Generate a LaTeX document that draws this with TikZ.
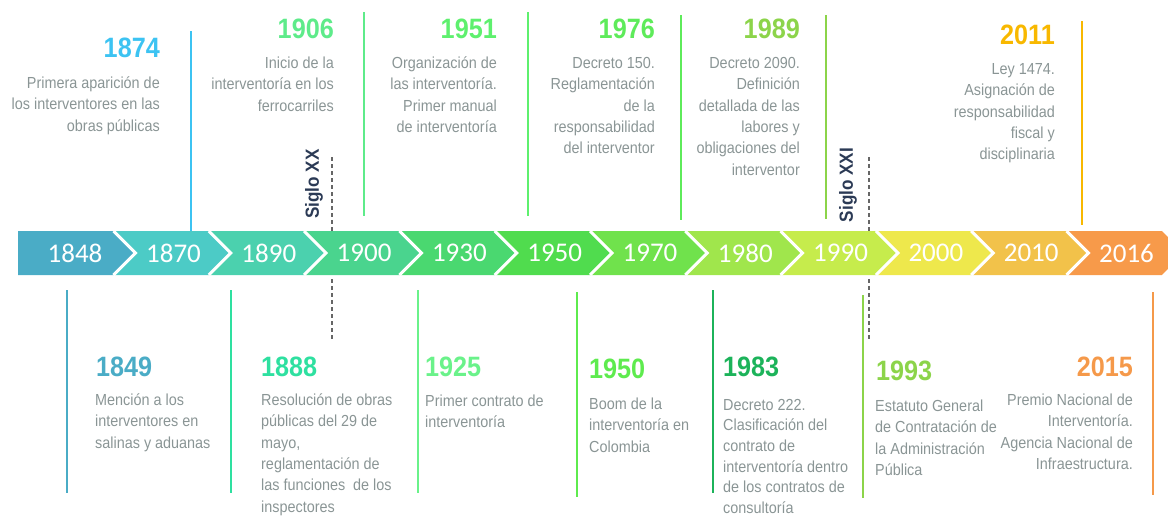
\documentclass[tikz,border=0pt]{standalone}
\usepackage{fontspec}
\newfontfamily\condf{Liberation Sans}[FakeStretch=0.9]
\newfontfamily\bandf{Carlito}
\newcommand\firstln{\rule{0pt}{16pt}}
\definecolor{descgray}{HTML}{8A9595}
\definecolor{navy}{HTML}{2B3A55}
\definecolor{dashgray}{HTML}{666666}
\definecolor{s0}{HTML}{4AACC6}
\definecolor{s1}{HTML}{4CCBC6}
\definecolor{s2}{HTML}{4BD1AE}
\definecolor{s3}{HTML}{4AD48E}
\definecolor{s4}{HTML}{4AD870}
\definecolor{s5}{HTML}{50DC4E}
\definecolor{s6}{HTML}{70E24C}
\definecolor{s7}{HTML}{A0E64C}
\definecolor{s8}{HTML}{C6EC4C}
\definecolor{s9}{HTML}{EEE84C}
\definecolor{s10}{HTML}{F2C24A}
\definecolor{s11}{HTML}{F79A4A}
\definecolor{k1874}{HTML}{3CC3F2}
\definecolor{k1906}{HTML}{5EEB8A}
\definecolor{k1951}{HTML}{5EF06E}
\definecolor{k1976}{HTML}{5EEB5A}
\definecolor{k1989}{HTML}{8CD44A}
\definecolor{k2011}{HTML}{F8B800}
\definecolor{k1849}{HTML}{4AACC6}
\definecolor{k1888}{HTML}{2EE0A0}
\definecolor{k1925}{HTML}{6AF28A}
\definecolor{k1950}{HTML}{5EEB4E}
\definecolor{k1983}{HTML}{1CB35A}
\definecolor{k1993}{HTML}{8CD44A}
\definecolor{k2015}{HTML}{F5994A}
\tikzset{
  yearR/.style={font=\condf\bfseries\fontsize{28}{28}\selectfont, inner sep=0, anchor=base east},
  yearL/.style={font=\condf\bfseries\fontsize{28}{28}\selectfont, inner sep=0, anchor=base west},
  descR/.style={font=\condf\fontsize{16}{21.4}\selectfont, text=descgray, inner sep=0, anchor=north east, align=right},
  descL/.style={font=\condf\fontsize{16}{21.4}\selectfont, text=descgray, inner sep=0, anchor=north west, align=left},
  bandtxt/.style={font=\bandf\fontsize{27}{27}\selectfont, text=white, inner sep=0},
  evline/.style={line width=2pt},
  siglo/.style={font=\condf\bfseries\fontsize{19}{19}\selectfont, text=navy, rotate=90, inner sep=0},
  dline/.style={dashgray, line width=1.3pt, dash pattern=on 4pt off 3pt}
}
\begin{document}
\begin{tikzpicture}[x=1pt,y=-1pt]
\useasboundingbox (0,0) rectangle (1168,517);
\clip (0,0) rectangle (1168,517);
% band
\foreach \c [count=\k from 0] in {s0,s1,s2,s3,s4,s5,s6,s7,s8,s9,s10,s11} {
  \pgfmathsetmacro\L{113.5+95.3*(\k-1)}
  \pgfmathsetmacro\R{113.5+95.3*\k}
  \ifnum\k=0
    \fill[\c] (18,231) -- (\R,231) -- (\R+22,253) -- (\R,275) -- (18,275) -- cycle;
  \else
    \fill[\c] (\L,231) -- (\R,231) -- (\R+22,253) -- (\R,275) -- (\L,275) -- (\L+22,253) -- cycle;
  \fi
}
\foreach \k in {0,...,10} {
  \pgfmathsetmacro\B{113.5+95.3*\k}
  \draw[white, line width=3pt] (\B,231) -- (\B+22,253) -- (\B,275);
}
\node[bandtxt] (t1848) at (75,253) {1848};
\foreach \y [count=\k from 0] in {1870,1890,1900,1930,1950,1970,1980,1990,2000,2010,2016} {
  \pgfmathsetmacro\B{113.5+95.3*\k+60}
  \node[bandtxt] (t\y) at (\B,253) {\y};
}
% top event lines
\draw[evline, k1874] (191,31) -- (191,231);
\draw[evline, k1906] (364,12) -- (364,216);
\draw[evline, k1951] (528,12) -- (528,216);
\draw[evline, k1976] (681,15) -- (681,220);
\draw[evline, k1989] (826,15) -- (826,219);
\draw[evline, k2011] (1082,21) -- (1082,225);
% bottom event lines
\draw[evline, k1849] (67,290) -- (67,493);
\draw[evline, k1888] (231,290) -- (231,493);
\draw[evline, k1925] (418,290) -- (418,493);
\draw[evline, k1950] (577,292) -- (577,497);
\draw[evline, k1983] (713,290) -- (713,493);
\draw[evline, k1993] (863,295) -- (863,498);
\draw[evline, k2015] (1153,292) -- (1153,495);
% siglo markers
\draw[dline] (332,157) -- (332,231);
\draw[dline] (332,279) -- (332,340);
\draw[dline] (869,157) -- (869,231);
\draw[dline] (869,279) -- (869,340);
\node[siglo] (sxx) at (314,184) {Siglo XX};
\node[siglo] (sxxi) at (848,185) {Siglo XXI};
% top texts
\node[yearR, text=k1874] (y1874) at (160,57) {1874};
\node[descR] (d1874) at (160,72) {\firstln Primera aparición de\\los interventores en las\\obras públicas};
\node[yearR, text=k1906] (y1906) at (334,38) {1906};
\node[descR] (d1906) at (334,52) {\firstln Inicio de la\\interventoría en los\\ferrocarriles};
\node[yearR, text=k1951] (y1951) at (497,38) {1951};
\node[descR] (d1951) at (497,52) {\firstln Organización de\\las interventoría.\\Primer manual\\de interventoría};
\node[yearR, text=k1976] (y1976) at (655,38) {1976};
\node[descR] (d1976) at (655,52) {\firstln Decreto 150.\\Reglamentación\\de la\\responsabilidad\\del interventor};
\node[yearR, text=k1989] (y1989) at (800,38) {1989};
\node[descR] (d1989) at (800,52) {\firstln Decreto 2090.\\Definición\\detallada de las\\labores y\\obligaciones del\\interventor};
\node[yearR, text=k2011] (y2011) at (1055,44) {2011};
\node[descR] (d2011) at (1055,58) {\firstln Ley 1474.\\Asignación de\\responsabilidad\\fiscal y\\disciplinaria};
% bottom texts
\node[yearL, text=k1849] (y1849) at (96,376) {1849};
\node[descL] (d1849) at (95,389) {\firstln Mención a los\\interventores en\\salinas y aduanas};
\node[yearL, text=k1888] (y1888) at (261,376) {1888};
\node[descL] (d1888) at (261,389) {\firstln Resolución de obras\\públicas del 29 de\\mayo,\\reglamentación de\\las funciones\ \ de los\\inspectores};
\node[yearL, text=k1925] (y1925) at (425,376) {1925};
\node[descL] (d1925) at (425,390) {\firstln Primer contrato de\\interventoría};
\node[yearL, text=k1950] (y1950) at (589,378) {1950};
\node[descL] (d1950) at (589,393) {\firstln Boom de la\\interventoría en\\Colombia};
\node[yearL, text=k1983] (y1983) at (723,376) {1983};
\node[descL, font=\condf\fontsize{16}{20.6}\selectfont] (d1983) at (723,394) {\firstln Decreto 222.\\Clasificación del\\contrato de\\interventoría dentro\\de los contratos de\\consultoría};
\node[yearL, text=k1993] (y1993) at (876,380) {1993};
\node[descL] (d1993) at (875,395) {\firstln Estatuto General\\de Contratación de\\la Administración\\Pública};
\node[yearR, text=k2015] (y2015) at (1133,376) {2015};
\node[descR] (d2015) at (1133,389) {\firstln Premio Nacional de\\Interventoría.\\Agencia Nacional de\\Infraestructura.};
\end{tikzpicture}
\end{document}
